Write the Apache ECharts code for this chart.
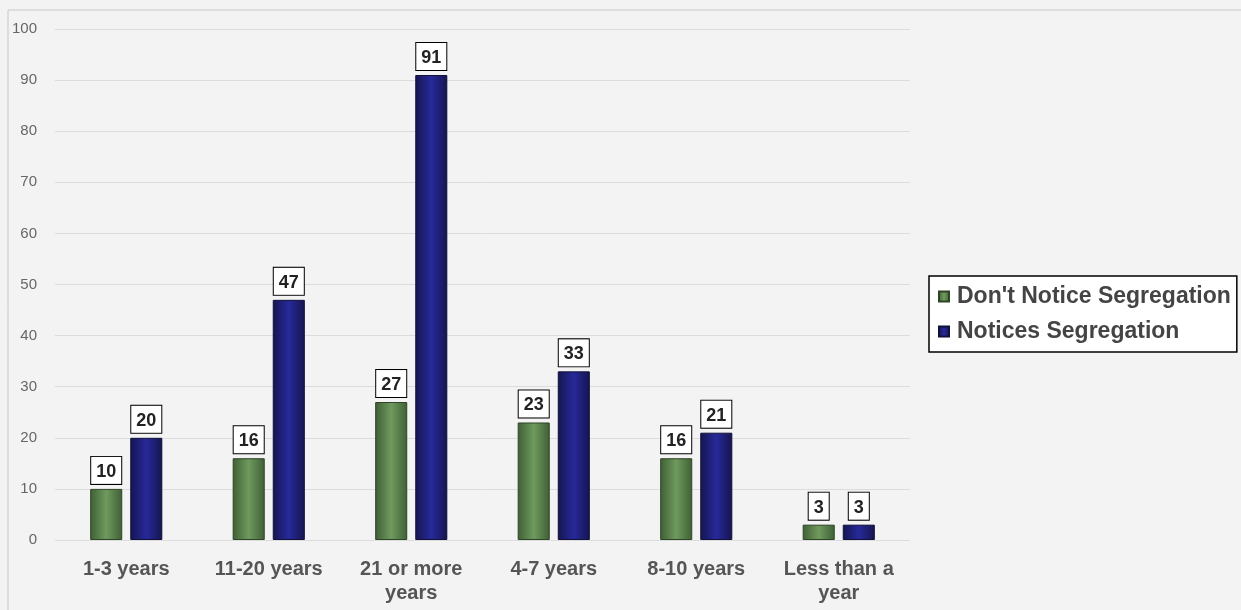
<!DOCTYPE html>
<html><head><meta charset="utf-8">
<script src="https://cdn.jsdelivr.net/npm/echarts@6/dist/echarts.min.js"></script>
<style>html,body{margin:0;padding:0;background:#fff}#c{width:1241px;height:610px}</style>
</head><body><div id="c"></div>
<script>
const categories = ['1-3 years', '11-20 years', '21 or more\nyears', '4-7 years', '8-10 years', 'Less than a\nyear'];
const dontNotice = [10, 16, 27, 23, 16, 3];
const notices = [20, 47, 91, 33, 21, 3];
const seriesNames = ["Don't Notice Segregation", 'Notices Segregation'];

const chart = echarts.init(document.getElementById('c'));
function grad(edge, mid) {
  return new echarts.graphic.LinearGradient(0, 0, 1, 0, [
    {offset: 0, color: edge}, {offset: 0.5, color: mid}, {offset: 1, color: edge}
  ]);
}
const labelStyle = {
  show: true, position: 'top', distance: 5,
  color: '#222', fontFamily: 'Liberation Sans, Arial', fontWeight: 'bold', fontSize: 18,
  backgroundColor: '#fff', borderColor: '#000', borderWidth: 1, padding: [6, 5, 3, 5]
};
chart.setOption({
  backgroundColor: '#f3f3f3',
  animation: false,
  graphic: [{type: 'rect', shape: {x: 8, y: 10, width: 1240, height: 610}, style: {fill: 'none', stroke: '#c8c8c8', lineWidth: 1}}],
  grid: {left: 55, right: 331, top: 29, bottom: 70},
  legend: {
    orient: 'vertical', left: 929, top: 276,
    backgroundColor: '#fff', borderColor: '#000', borderWidth: 1.5,
    padding: [9, 6, 9, 9], itemGap: 12, itemWidth: 10, itemHeight: 10, icon: 'rect',
    textStyle: {fontFamily: 'Liberation Sans, Arial', fontWeight: 'bold', fontSize: 23, color: '#444', padding: [0, 0, 0, 3]},
    data: seriesNames
  },
  xAxis: {
    type: 'category', data: categories,
    axisLine: {show: false}, axisTick: {show: false},
    axisLabel: {fontFamily: 'Liberation Sans, Arial', fontWeight: 'bold', fontSize: 20, color: '#555', margin: 17, lineHeight: 24, interval: 0}
  },
  yAxis: {
    type: 'value', min: 0, max: 100, interval: 10,
    axisLine: {show: false}, axisTick: {show: false},
    axisLabel: {fontFamily: 'Liberation Sans, Arial', fontSize: 15, color: '#666', margin: 18},
    splitLine: {lineStyle: {color: '#dcdcdc', width: 1}}
  },
  series: [
    {name: seriesNames[0], type: 'bar', data: dontNotice, barWidth: '22.5%', barGap: '25%',
     itemStyle: {color: grad('#3f5f35', '#6f9a5e'), borderColor: '#2e4427', borderWidth: 1},
     label: labelStyle},
    {name: seriesNames[1], type: 'bar', data: notices, barWidth: '22.5%',
     itemStyle: {color: grad('#15154f', '#27299a'), borderColor: '#10103a', borderWidth: 1},
     label: labelStyle}
  ]
});
</script></body></html>
